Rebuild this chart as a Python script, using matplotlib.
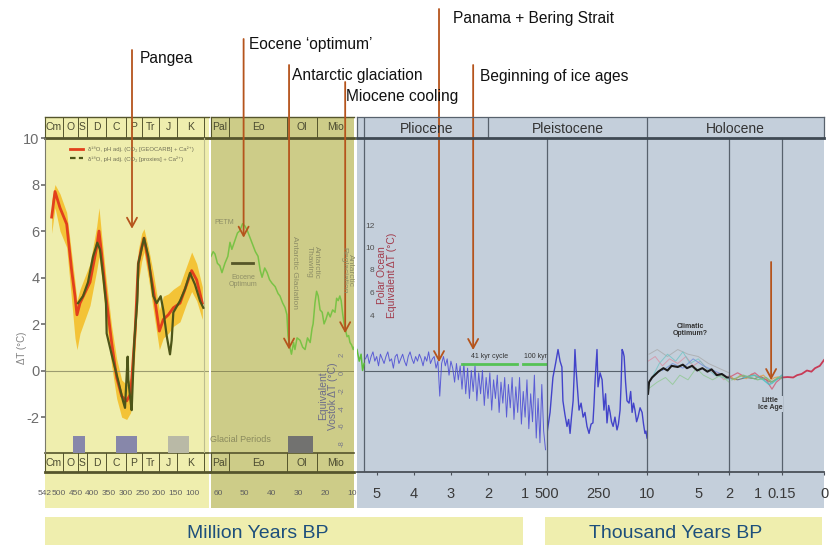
import numpy as np
import matplotlib
matplotlib.use("Agg")
import matplotlib.pyplot as plt
from matplotlib import font_manager
from matplotlib.lines import Line2D
from matplotlib.patches import Rectangle

W, H = 830, 545
Y_ZERO = 370.5       # pixel row of dT = 0 on the main scale
PX_PER_DEG = 23.3    # pixels per degree C on the main scale

# ---------------------------------------------------------------- data
# Phanerozoic, Ma
royer_age = [522, 512, 497, 477, 462, 452, 446, 437, 407, 387, 380, 372, 359,
             342, 327, 312, 297, 285, 272, 262, 252, 245, 232, 217, 199, 187,
             172, 157, 137, 117, 102, 87, 70]
royer_dt = [6.6, 7.7, 7.0, 6.3, 4.3, 3.2, 2.4, 2.9, 3.8, 5.3, 6.0, 5.0, 3.2,
            1.2, -0.3, -1.1, -1.3, -1.0, 1.6, 4.6, 5.3, 5.7, 4.7, 3.5, 1.7, 2.2,
            2.4, 2.7, 2.9, 3.7, 4.3, 3.9, 2.9]
royer_lo = [5.9, 7.0, 6.0, 5.3, 3.0, 1.4, 0.9, 1.6, 2.8, 4.3, 4.9, 4.0, 2.2,
            0.2, -1.2, -2.0, -2.1, -1.8, 0.8, 3.8, 4.7, 5.1, 4.0, 2.6, 0.9, 1.4,
            1.6, 1.9, 2.1, 2.9, 3.4, 3.0, 2.2]
royer_hi = [7.3, 8.0, 7.6, 6.8, 5.0, 3.8, 3.0, 3.5, 4.6, 6.2, 7.0, 5.8, 4.0,
            1.9, 0.5, -0.4, -0.6, -0.3, 2.4, 5.2, 5.9, 6.1, 5.3, 4.2, 2.6, 3.2,
            3.3, 3.5, 3.7, 4.5, 5.1, 4.6, 3.6]
proxy_age = [443, 428, 413, 398, 385, 377, 367, 359, 357, 338, 323, 308, 302,
             294, 292, 287, 282, 274, 265, 262, 245, 232, 217, 207, 195, 187,
             177, 167, 162, 157, 137, 122, 107, 92, 77, 67]
proxy_dt = [2.9, 3.2, 3.8, 4.9, 5.5, 5.2, 4.0, 2.9, 1.6, 0.45, -0.4, -1.3, -1.6,
            0.6, -0.4, -1.1, -1.7, 1.3, 3.0, 4.6, 5.7, 4.9, 3.2, 2.9, 3.2, 2.6,
            1.5, 0.7, 1.3, 2.5, 3.0, 3.5, 4.2, 3.7, 3.0, 2.7]
periods = ["Cm", "O", "S", "D", "C", "P", "Tr", "J", "K"]
period_edges = [542, 488, 444, 416, 359, 299, 251, 200, 146, 65]
phan_ticks = [542, 500, 450, 400, 350, 300, 250, 200, 150, 100]
glacial_start = [458, 329, 173]
glacial_end = [422, 266, 110]
glacial_colors = ["#8787aa", "#8787aa", "#b9b9a6"]

# Cenozoic, Ma
ceno_age = [62.6, 61.8, 61.1, 60.2, 59.3, 58.5, 57.4, 56.3, 55.5, 54.8,
            53.6, 52.7, 51.8, 50.8, 49.9, 49.0, 48.0, 47.0, 46.0, 45.0,
            44.2, 43.5, 42.5, 41.6, 40.7, 39.8, 38.6, 37.5, 36.8, 35.8,
            34.9, 34.2, 33.8, 33.3, 32.5, 31.7, 31.2, 30.4, 29.3, 28.3,
            27.4, 26.5, 25.5, 24.8, 24.4, 23.7, 23.1, 22.5, 21.8, 21.0,
            20.3, 19.6, 18.8, 18.0, 17.1, 16.2, 15.6, 15.0, 14.4, 13.9,
            13.3, 12.8, 12.2, 11.7, 11.1, 10.6, 10.0, 9.4, 9.1]
ceno_dt = [4.9, 5.1, 5.0, 4.6, 4.5, 4.2, 4.6, 4.9, 5.5, 5.2,
           5.6, 5.9, 6.0, 6.3, 6.2, 6.0, 5.7, 5.4, 5.1, 4.9,
           4.3, 4.0, 4.4, 4.2, 3.9, 3.75, 3.6, 3.3, 3.2, 2.9,
           2.7, 2.4, 1.5, 1.1, 0.7, 1.2, 0.9, 1.4, 1.3, 1.0,
           0.9, 1.4, 1.2, 1.8, 2.0, 2.9, 3.4, 3.2, 2.6, 2.5,
           2.0, 2.2, 2.5, 2.3, 2.6, 2.5, 3.1, 3.0, 3.2, 3.0,
           2.4, 2.0, 1.7, 1.45, 1.5, 1.2, 1.1, 0.9, 1.0]
ceno_tail_age = [5.53, 5.47, 5.42, 5.38, 5.34]
ceno_tail_dt = [0.9, 0.4, 0.7, 0.0, 0.3]
epochs = ["Pal", "Eo", "Ol", "Mio"]
epoch_edges = [65, 56, 34, 23, 5.3]
ceno_ticks = [60, 50, 40, 30, 20, 10]
ceno_glacial = (33.8, 24.4)
eocene_optimum = (54.8, 46.9, 4.6)

# Plio-Pleistocene benthic stack, Ma, every 50 kyr from 5.30 to 0.45
lr04_age = np.linspace(5.30, 0.45, 98)
lr04_dt = [0.5, 0.7, 0.3, 0.6, 0.8, 0.4, 0.6, 0.2, 0.7, 0.5,
           0.3, 0.6, 0.8, 0.4, 0.5, 0.1, 0.6, 0.7, 0.3, 0.5,
           0.7, 0.4, 0.2, 0.6, 0.8, 0.5, 0.3, 0.6, 0.4, 0.7,
           0.5, 0.2, 0.6, 0.4, 0.8, 0.3, 0.5, 0.6, 0.1, 0.4,
           -1.1, 0.3, 0.6, 0.2, 0.5, -0.2, 0.4, 0.1, -0.5, 0.3,
           -0.4, 0.2, -0.8, 0.3, -1.0, 0.1, -1.2, 0.0, -0.9, 0.2,
           -1.3, -0.1, -1.0, 0.0, -1.5, -0.3, -1.2, -0.1, -1.7, -0.4,
           -1.2, -0.2, -1.8, -0.5, -1.4, -0.3, -2.0, -0.6, -1.6, -0.3,
           -2.1, -0.7, -1.8, -0.3, -2.3, -0.9, -2.0, -0.4, -2.5, -1.0,
           -2.2, -0.2, -2.9, -1.2, -3.1, -0.6, -2.6, -3.4]
cycle_41k = (2.70, 1.22)
cycle_100k = (1.06, 0.41)
cycle_level = 0.28

# Vostok, ka
vostok_age = [500, 485, 471, 458, 446, 436, 427, 422, 412, 402,
              394, 387, 380, 372, 367, 363, 358, 353, 343, 333,
              323, 314, 304, 294, 284, 275, 270, 265, 260, 255,
              250, 240, 230, 221, 213, 206, 198, 191, 184, 176,
              167, 157, 150, 142, 137, 132, 127, 122, 115, 108,
              98, 90, 83, 76, 69, 61, 54, 44, 34, 27, 20, 15, 10]
vostok_dt = [-2.7, -1.8, -0.3, 0.3, 0.9, 0.4, 0.15, -1.3, -1.9, -2.4,
             -2.1, -2.7, -2.0, -1.3, -0.2, 0.9, 0.1, -0.5, -1.7, -1.4,
             -2.0, -1.8, -2.4, -2.7, -2.3, -2.25, -1.5, -0.55, 0.2, 0.9,
             -0.7, -0.1, -0.4, -1.7, -1.0, -2.25, -1.5, -1.8, -2.2, -2.4,
             -2.0, -2.55, -2.3, -1.7, -0.6, 0.9, 0.8, 0.6, -0.5, -1.3,
             -1.4, -0.9, -1.8, -1.4, -1.7, -2.2, -2.0, -1.6, -1.8, -2.3,
             -2.7, -2.6, -2.9]

# Holocene, ka
holo_age = [9.9, 9.8, 9.5, 8.9, 8.4, 8.0, 7.6, 7.0, 6.5, 6.1,
            5.6, 5.1, 4.6, 4.1, 3.7, 3.2, 2.7, 2.2, 2.0]
holo_dt = [-1.0, -0.5, -0.3, -0.05, 0.1, 0.0, 0.2, 0.15, 0.25, 0.1,
           0.2, 0.0, 0.1, -0.05, 0.05, -0.2, -0.15, -0.3, -0.3]
late_age = [2.0, 1.7, 1.4, 1.1, 0.9, 0.7, 0.55, 0.45, 0.3, 0.15]
late_dt = [-0.3, -0.4, -0.3, -0.35, -0.25, -0.4, -0.5, -0.45, -0.35, -0.3]
pink_age = [9.9, 9.2, 8.5, 7.8, 7.0, 6.2, 5.5, 4.8, 4.0, 3.2, 2.5, 2.0]
pink_dt = [0.4, 0.6, 0.2, 0.5, 0.3, 0.6, 0.2, 0.4, 0.0, -0.1, -0.4, -0.2]
cyan_age = [9.5, 8.8, 8.0, 7.2, 6.5, 5.8, 5.0, 4.2, 3.4, 2.6, 2.0]
cyan_dt = [-0.3, 0.3, 0.7, 0.4, 0.8, 0.3, 0.5, 0.1, -0.2, -0.3, -0.4]
green_age = [9.9, 9.0, 8.2, 7.5, 6.8, 6.0, 5.2, 4.5, 3.6, 2.8, 2.0]
green_dt = [-0.8, -0.5, -0.3, -0.6, -0.2, -0.4, 0.1, -0.2, -0.4, -0.2, -0.5]
blue_age = [8.5, 7.5, 6.5, 5.5, 4.5, 3.5, 2.5]
blue_dt = [0.0, 0.3, 0.1, 0.5, 0.2, 0.0, -0.2]
gray_age = [9.8, 9.0, 8.0, 7.0, 6.0, 5.0, 4.0, 3.0, 2.0]
gray_dt = [0.7, 0.9, 0.6, 0.9, 0.7, 0.6, 0.3, 0.1, -0.1]
orange2_age = [2.0, 1.8, 1.6, 1.4, 1.2, 1.0, 0.8, 0.6, 0.4, 0.15]
orange2_dt = [-0.2, -0.4, -0.2, -0.35, -0.15, -0.3, -0.2, -0.45, -0.3, -0.25]
pink2_age = [2.0, 1.7, 1.4, 1.1, 0.9, 0.7, 0.5, 0.35, 0.15]
pink2_dt = [-0.3, -0.1, -0.3, -0.1, -0.3, -0.4, -0.8, -0.5, -0.3]
cyan2_age = [1.5, 1.1, 0.8, 0.6, 0.5, 0.35, 0.15]
cyan2_dt = [-0.3, -0.2, -0.4, -0.6, -0.55, -0.4, -0.2]
green2_age = [1.9, 1.5, 1.0, 0.7, 0.5, 0.3, 0.15]
green2_dt = [-0.4, -0.2, -0.4, -0.3, -0.5, -0.3, -0.35]
inst_age = [0.15, 0.13, 0.11, 0.096, 0.08, 0.061, 0.045, 0.032, 0.015, 0.0]
inst_dt = [-0.3, -0.28, -0.3, -0.2, -0.15, 0.0, -0.05, 0.1, 0.2, 0.45]

# ---------------------------------------------------------------- style
YELLOW = "#efeeae"
OLIVE = "#cdcc88"
BLUEBG = "#c4cfdb"
BAND_LINE = "#55552c"
BLUE_LINE = "#58626d"
ARROW = "#b5541c"

plt.rcParams["font.family"] = ["Liberation Sans", "DejaVu Sans"]
_names = {f.name for f in font_manager.fontManager.ttflist}
NARROW = "Liberation Sans Narrow" if "Liberation Sans Narrow" in _names else "Liberation Sans"

fig = plt.figure(figsize=(W / 100, H / 100), dpi=100)
fig.patch.set_facecolor("white")


def add_ax(x0, y0, x1, y1):
    ax = fig.add_axes([x0 / W, 1 - y1 / H, (x1 - x0) / W, (y1 - y0) / H])
    ax.patch.set_visible(False)
    ax.set_xticks([])
    ax.set_yticks([])
    return ax


def add_rect(x0, y0, x1, y1, color):
    fig.add_artist(Rectangle((x0 / W, 1 - y1 / H), (x1 - x0) / W, (y1 - y0) / H,
                             transform=fig.transFigure, facecolor=color,
                             edgecolor="none", zorder=-1))


def ftext(x, y, s, **kw):
    kw.setdefault("ha", "left")
    kw.setdefault("va", "center")
    return fig.text(x / W, 1 - y / H, s, **kw)


def data_axes(x0, y0, x1, y1, xlim):
    ax = add_ax(x0, y0, x1, y1)
    ax.set_xlim(*xlim)
    ax.set_ylim((Y_ZERO - y1) / PX_PER_DEG, (Y_ZERO - y0) / PX_PER_DEG)
    for s in ax.spines.values():
        s.set_visible(False)
    return ax


def band_axes(x0, y0, x1, y1, xlim, names, edges, fs, top_lw, bottom_lw):
    ax = add_ax(x0, y0, x1, y1)
    ax.set_xlim(*xlim)
    ax.set_ylim(0, 1)
    for side, s in ax.spines.items():
        s.set_color(BAND_LINE)
        s.set_linewidth({"top": top_lw, "bottom": bottom_lw}.get(side, 0.8))
    ax.spines["right"].set_visible(False)
    lo, hi = sorted(xlim)
    for e in edges:
        if lo < e < hi:
            ax.axvline(e, color=BAND_LINE, lw=0.7)
    for name, a, b in zip(names, edges[:-1], edges[1:]):
        a, b = min(a, xlim[0]), max(b, xlim[1])
        ax.text((a + b) / 2, 0.5, name, ha="center", va="center", fontsize=fs,
                family=NARROW, color="#4a4a30")
    return ax


# ---------------------------------------------------------------- backgrounds
add_rect(45, 117, 209, 508, YELLOW)
add_rect(211, 117, 354, 508, OLIVE)
add_rect(357, 117, 824, 508, BLUEBG)
add_rect(45, 517, 523, 545, YELLOW)
add_rect(545, 517, 822, 545, YELLOW)

# ---------------------------------------------------------------- header / footer bands
PH_XLIM = (542, 50)
CZ_XLIM = (62.6, 9.1)
band_axes(45, 117, 209, 138, PH_XLIM, periods, period_edges, 7.5, 1.0, 2.0)
foot_ph = band_axes(45, 453, 209, 472, PH_XLIM, periods, period_edges, 7.5, 1.2, 2.0)
band_axes(211, 117, 354, 138, CZ_XLIM, epochs, epoch_edges, 7.5, 1.0, 2.0)
foot_cz = band_axes(211, 453, 354, 472, CZ_XLIM, epochs, epoch_edges, 7.5, 1.2, 2.0)

foot_ph.set_xticks(phan_ticks)
foot_ph.set_xticklabels([str(t) for t in phan_ticks], fontsize=6, family=NARROW, color="#606060")
foot_ph.tick_params(axis="x", length=0, pad=13)
foot_cz.set_xticks(ceno_ticks)
foot_cz.set_xticklabels([str(t) for t in ceno_ticks], fontsize=6, family=NARROW, color="#606060")
foot_cz.tick_params(axis="x", length=0, pad=13)

# ---------------------------------------------------------------- Phanerozoic panel
ax_ph = data_axes(45, 138, 209, 453, PH_XLIM)
ax_ph.spines["left"].set_visible(True)
ax_ph.spines["left"].set_color("#7a7a6a")
ax_ph.set_yticks([10, 8, 6, 4, 2, 0, -2])
ax_ph.set_yticklabels(["10", "8", "6", "4", "2", "0", "-2"], fontsize=10.5,
                      family=NARROW, color="#6c6c6c")
ax_ph.tick_params(axis="y", length=3, width=1.2, color="#6c6c6c", pad=1)
ftext(22, 348, "ΔT (°C)", rotation=90, ha="center", fontsize=7, color="#808080")

ax_ph.axhline(0, color="#9c9c70", lw=0.8)
ax_ph.axvline(65, color="#bdbd8e", lw=0.8)
ax_ph.fill_between(royer_age, royer_lo, royer_hi, color="#f4bf2a", alpha=0.9, lw=0)
ax_ph.plot(royer_age, royer_dt, color="#e2401c", lw=2.0)
ax_ph.plot(proxy_age, proxy_dt, color="#4d5518", lw=1.6)
glac_bottom = ax_ph.get_ylim()[0]
for a, b, c in zip(glacial_start, glacial_end, glacial_colors):
    ax_ph.bar((a + b) / 2, -2.8 - glac_bottom, width=a - b, bottom=glac_bottom,
              color=c, edgecolor="none")

leg_handles = [Line2D([], [], color="#e2401c", lw=2.0),
               Line2D([], [], color="#4d5518", lw=1.6, ls=(0, (2.5, 1.5)))]
ax_ph.legend(leg_handles,
             ["δ¹⁸O, pH adj. (CO₂ [GEOCARB] + Ca²⁺)", "δ¹⁸O, pH adj. (CO₂ [proxies] + Ca²⁺)"],
             loc="upper left", bbox_to_anchor=(70 / W, 1 - 146 / H),
             bbox_transform=fig.transFigure, frameon=False, fontsize=4.3,
             handlelength=2.2, labelspacing=0.7, labelcolor="#707056",
             borderpad=0, borderaxespad=0)

# ---------------------------------------------------------------- Cenozoic panel
ax_cz = data_axes(211, 138, 354, 453, CZ_XLIM)
ax_cz.axhline(0, color="#8f8e5c", lw=0.7)
ax_cz.plot(ceno_age, ceno_dt, color="#6cc13a", lw=1.1, alpha=0.85)
ax_cz.plot(eocene_optimum[:2], [eocene_optimum[2]] * 2, color="#565628", lw=2)
cz_bottom = ax_cz.get_ylim()[0]
ax_cz.bar(sum(ceno_glacial) / 2, -2.8 - cz_bottom, width=ceno_glacial[0] - ceno_glacial[1],
          bottom=cz_bottom, color="#727270", edgecolor="none")

faint = dict(color="#8e8e66", family=NARROW)
ftext(214, 222, "PETM", fontsize=5, **faint)
ftext(243, 281, "Eocene\nOptimum", fontsize=5, ha="center", linespacing=1.1, **faint)
ftext(294, 272, "Antarctic Glaciation", fontsize=6, rotation=-90, ha="center", **faint)
ftext(313, 262, "Antarctic\nThawing", fontsize=6, rotation=-90, ha="center", linespacing=0.9, **faint)
ftext(347, 270, "Antarctic\nReglaciation", fontsize=6, rotation=-90, ha="center", linespacing=0.9, **faint)
ftext(240, 440, "Glacial Periods", fontsize=6.5, ha="center", color="#8a8a5e", family=NARROW)
ftext(328, 396, "Equivalent\nVostok ΔT (°C)", fontsize=7.5, rotation=90, ha="center",
      linespacing=1.0, color="#6d6d8a")

# secondary Vostok scale
ax_vs = add_ax(347, 138, 348, 453)
ax_vs.set_ylim(-9.1, 26.7)
for s in ax_vs.spines.values():
    s.set_visible(False)
ax_vs.set_yticks([2, 0, -2, -4, -6, -8])
ax_vs.set_yticklabels(["2", "0", "-2", "-4", "-6", "-8"], fontsize=5.5, color="#7a7a8a",
                      rotation=90, va="center")
ax_vs.tick_params(axis="y", length=0, pad=1)

# ---------------------------------------------------------------- Plio-Pleistocene / Holocene
seg_specs = [(357, 547, (5.53, 0.41), [5, 4, 3, 2, 1], ["5", "4", "3", "2", "1"]),
             (547, 647, (500, 10), [500, 250], ["500", "250"]),
             (647, 729, (10, 2), [10, 5], ["10", "5"]),
             (729, 782, (2, 0.15), [2, 1], ["2", "1"]),
             (782, 824, (0.15, 0), [0.15, 0], ["0.15", "0"])]
segs = []
for i, (x0, x1, xlim, ticks, labels) in enumerate(seg_specs):
    ax = data_axes(x0, 138, x1, 472, xlim)
    ax.spines["bottom"].set_visible(True)
    ax.spines["bottom"].set_color("#4a5058")
    ax.spines["bottom"].set_linewidth(1.3)
    if i > 0:
        ax.spines["left"].set_visible(True)
        ax.spines["left"].set_color(BLUE_LINE)
        ax.spines["left"].set_linewidth(0.9)
    ax.set_xticks(ticks)
    ax.set_xticklabels(labels, fontsize=10.5, family=NARROW, color="#3a3a3a")
    ax.tick_params(axis="x", length=2.5, color="#4a5058", pad=8)
    segs.append(ax)
axA, axB, axC, axD, axE = segs

axA.axvline(5.33, color=BLUE_LINE, lw=0.9)
axA.hlines(0, 5.33, 0.41, color=BLUE_LINE, lw=0.8)
axB.axhline(0, color=BLUE_LINE, lw=0.8)

axA.plot(ceno_tail_age, ceno_tail_dt, color="#5cbf3a", lw=1.1)
axA.plot(lr04_age, lr04_dt, color="#4848d4", lw=0.7, alpha=0.85)
axB.plot(vostok_age, vostok_dt, color="#3434c8", lw=1.0, alpha=0.9)
for xs in (cycle_41k, cycle_100k):
    axA.plot(xs, [cycle_level] * 2, color="#55c255", lw=2)
ftext(490, 357, "41 kyr cycle", fontsize=5, ha="center", color="#333333")
ftext(535, 357, "100 kyr", fontsize=5, ha="center", color="#333333")

thin = dict(lw=0.7, alpha=0.75)
axC.plot(gray_age, gray_dt, color="#a8a8a8", **thin)
axC.plot(pink_age, pink_dt, color="#d98ca0", **thin)
axC.plot(cyan_age, cyan_dt, color="#6cc4c4", **thin)
axC.plot(green_age, green_dt, color="#8cc88c", **thin)
axC.plot(blue_age, blue_dt, color="#6a8ad8", **thin)
axC.plot(holo_age, holo_dt, color="#1a1a1a", lw=1.5)
axD.plot(late_age, late_dt, color="#444444", lw=0.8, alpha=0.6)
axD.plot(orange2_age, orange2_dt, color="#e0a050", lw=0.9, alpha=0.85)
axD.plot(pink2_age, pink2_dt, color="#d0607a", lw=0.9, alpha=0.85)
axD.plot(cyan2_age, cyan2_dt, color="#4cc0c0", lw=1.1, alpha=0.85)
axD.plot(green2_age, green2_dt, color="#7cbc7c", lw=0.9, alpha=0.85)
axE.plot(inst_age, inst_dt, color="#c83a55", lw=1.3)

ftext(690, 330, "Climatic\nOptimum?", fontsize=5, ha="center", weight="bold",
      color="#333333", linespacing=1.1)
ftext(770, 404, "Little\nIce Age", fontsize=5, ha="center", weight="bold",
      color="#333333", linespacing=1.1,
      bbox=dict(facecolor=BLUEBG, edgecolor="none", pad=0.5))

# polar ocean scale
ax_po = add_ax(376, 138, 377, 472)
ax_po.set_ylim(4 - (472 - 315) / 11.25, 12 + (225 - 138) / 11.25)
for s in ax_po.spines.values():
    s.set_visible(False)
ax_po.set_yticks([12, 10, 8, 6, 4])
ax_po.set_yticklabels(["12", "10", "8", "6", "4"], fontsize=6, color="#505050")
ax_po.tick_params(axis="y", length=0, pad=1)
ftext(387, 275, "Polar Ocean\nEquivalent ΔT (°C)", fontsize=7.5, rotation=90, ha="center",
      linespacing=1.0, color="#a23a4a")

# epoch header across the blue panel
def fig_px(ax, t):
    return ax.transData.transform((t, 0))[0]


hdr = add_ax(357, 117, 824, 138)
hdr.set_xlim(357, 824)
hdr.set_ylim(0, 1)
for side, s in hdr.spines.items():
    s.set_color("#3f4953" if side == "bottom" else BLUE_LINE)
    s.set_linewidth(2.0 if side == "bottom" else 0.9)
blue_edges = [fig_px(axA, 5.33), fig_px(axA, 2.0), fig_px(axC, 10), 824]
for e in blue_edges[:-1]:
    hdr.axvline(e, color=BLUE_LINE, lw=0.9)
for name, a, b in zip(["Pliocene", "Pleistocene", "Holocene"], blue_edges[:-1], blue_edges[1:]):
    hdr.text((a + b) / 2, 0.45, name, ha="center", va="center", fontsize=10,
             family=NARROW, color="#333333")

# ---------------------------------------------------------------- event arrows
events = [("Pangea", ax_ph, 281, 6.1, 50, 140, 58),
          ("Eocene ‘optimum’", ax_cz, 50.4, 5.7, 39, 249, 45),
          ("Antarctic glaciation", ax_cz, 33.4, 0.9, 65, 292, 75),
          ("Miocene cooling", ax_cz, 12.4, 1.6, 82, 346, 96),
          ("Panama + Bering Strait", axA, 3.32, 0.36, 9, 453, 18),
          ("Beginning of ice ages", axA, 2.40, 0.88, 65, 480, 77),
          ("", axD, 0.53, -0.41, 262, 0, 0)]
for label, ax, t, dt, top, tx, ty in events:
    ax.annotate("", xy=(t, dt), xytext=(t, H - top),
                textcoords=(ax.transData, "figure pixels"),
                arrowprops=dict(arrowstyle="->,head_length=0.55,head_width=0.3",
                                color=ARROW, lw=1.3, shrinkA=0, shrinkB=0,
                                mutation_scale=12),
                annotation_clip=False)
    if label:
        ftext(tx, ty, label, fontsize=11.2, color="#111111")

# ---------------------------------------------------------------- time-unit boxes
ftext(258, 533, "Million Years BP", fontsize=14, ha="center", color="#1d4f7c")
ftext(676, 533, "Thousand Years BP", fontsize=14, ha="center", color="#1d4f7c")

fig.savefig("out.png", dpi=100)
